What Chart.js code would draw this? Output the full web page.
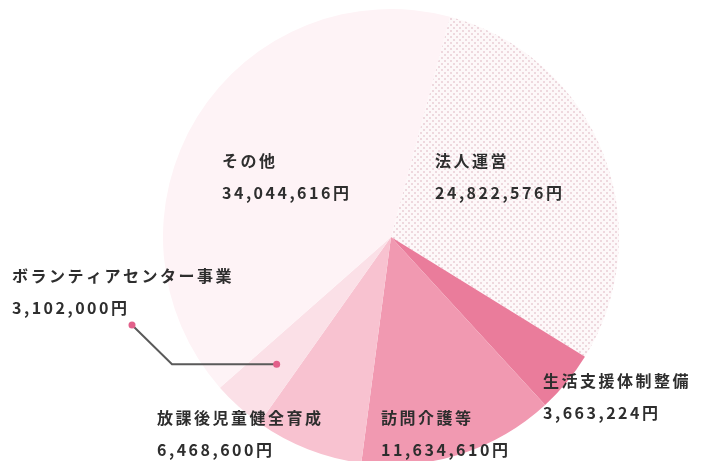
<!DOCTYPE html>
<html lang="ja">
<head>
  <meta charset="UTF-8"/>
  <title>事業別内訳</title>
  <script src="https://cdn.jsdelivr.net/npm/chart.js"></script>
  <style>
    html, body { margin:0; padding:0; background:#fff; overflow:hidden; }
    .wrap { position:relative; width:722px; height:475px; }
  </style>
</head>
<body>
<div class="wrap"><canvas id="pie"></canvas></div>

<script>
  // data (clockwise from the top)
  const categories = ['法人運営','生活支援体制整備','訪問介護等','放課後児童健全育成','ボランティアセンター事業','その他'];
  const amounts    = [24822576, 3663224, 11634610, 6468600, 3102000, 34044616];
  const amountText = ['24,822,576円','3,663,224円','11,634,610円','6,468,600円','3,102,000円','34,044,616円'];

  // dotted fill for 法人運営
  function dotPattern(){
    const c=document.createElement('canvas'); c.width=6; c.height=6;
    const g=c.getContext('2d');
    g.fillStyle='#fdf8f9'; g.fillRect(0,0,6,6);
    g.fillStyle='#eed8de'; g.fillRect(0,0,2,2); g.fillRect(3,3,2,2);
    return g.createPattern(c,'repeat');
  }
  const ctx=document.getElementById('pie').getContext('2d');
  const colors=[dotPattern(),'#ea7c9b','#f199b1','#f8c2d0','#fbe0e7','#fef3f6'];

  // label spots: [x, y of first line]
  const labelPos=[[435,161],[543,381],[381,418],[157,418],[12,276],[222,161]];

  const labelPlugin={
    id:'labels',
    afterDatasetsDraw(chart){
      const c=chart.ctx, meta=chart.getDatasetMeta(0);
      c.save();
      // leader line for ボランティアセンター事業
      const a=meta.data[4], mid=(a.startAngle+a.endAngle)/2;
      const px=a.x+Math.cos(mid)*a.outerRadius*0.75, py=a.y+Math.sin(mid)*a.outerRadius*0.75;
      c.strokeStyle='#5a5a5a'; c.lineWidth=2;
      c.beginPath(); c.moveTo(px,py); c.lineTo(172,py); c.lineTo(132,325); c.stroke();
      c.fillStyle='#e2608a';
      [[px,py],[132,325]].forEach(p=>{ c.beginPath(); c.arc(p[0],p[1],3.5,0,Math.PI*2); c.fill(); });

      c.fillStyle='#2e2e2e'; c.textBaseline='middle';
      c.font='bold 16px "Noto Sans CJK JP"';
      c.letterSpacing='2.5px';
      categories.forEach((name,i)=>{
        const [x,y]=labelPos[i];
        c.fillText(name,x,y);
        c.fillText(amountText[i],x,y+32);
      });
      c.restore();
    }
  };

  new Chart(ctx,{
    type:'pie',
    data:{labels:categories,datasets:[{data:amounts,backgroundColor:colors,borderWidth:0}]},
    options:{
      responsive:true, maintainAspectRatio:false, animation:false,
      rotation:15,
      layout:{padding:{left:163,right:103,top:9,bottom:10}},
      plugins:{legend:{display:false},tooltip:{enabled:false}}
    },
    plugins:[labelPlugin]
  });
</script>
</body>
</html>
